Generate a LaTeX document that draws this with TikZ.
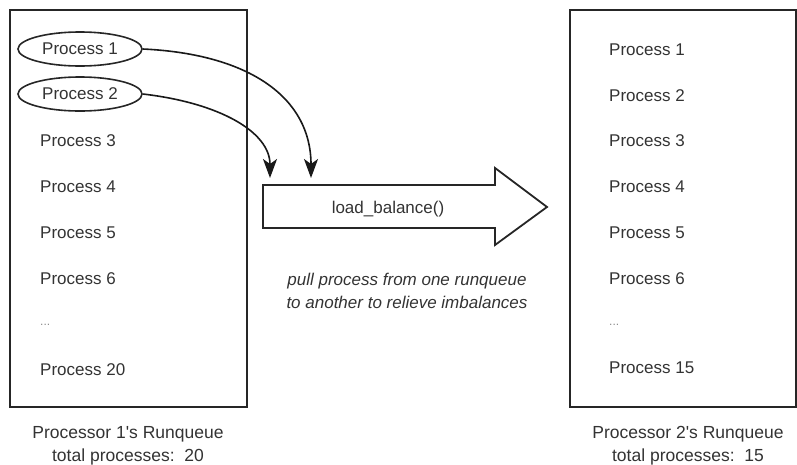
\documentclass[tikz,border=0pt]{standalone}
\usepackage{fontspec}
\setmainfont{Liberation Sans}
\usetikzlibrary{arrows.meta,shapes.geometric}
\begin{document}
\begin{tikzpicture}[x=1pt,y=-1pt,
  box/.style={draw=black!85,line width=1.8pt},
  proc/.style={anchor=west,inner sep=0pt,font=\fontsize{17}{20}\selectfont,text=black!80},
  sel/.style={ellipse,draw=black!85,line width=1.6pt,minimum width=124pt,minimum height=34pt,inner sep=0pt,font=\fontsize{17}{20}\selectfont,text=black!80},
  move/.style={line width=1.6pt,draw=black!90,-{Stealth[length=19pt,width=14pt,inset=5pt]}},
  caption/.style={align=center,font=\fontsize{17.5}{23}\selectfont,text=black!80},
  note/.style={align=center,font=\fontsize{17}{23}\selectfont\itshape,text=black!80},
  dots/.style={anchor=west,inner sep=0pt,font=\fontsize{12}{14}\selectfont,text=black!45}]
\useasboundingbox (0,0) rectangle (797,464);

% runqueue frames
\draw[box] (10,10) rectangle (247,407);
\draw[box] (570,10) rectangle (796,407);

% processor 1 runqueue
\node[sel] (p1) at (80,49) {Process 1};
\node[sel] (p2) at (80,94) {Process 2};
\node[proc] (a3) at (40,141) {Process 3};
\node[proc] (a4) at (40,187) {Process 4};
\node[proc] (a5) at (40,233) {Process 5};
\node[proc] (a6) at (40,279) {Process 6};
\node[dots] (a7) at (40,325) {...};
\node[proc] (a8) at (40,370) {Process 20};

% processor 2 runqueue
\node[proc] (b1) at (609,50) {Process 1};
\node[proc] (b2) at (609,96) {Process 2};
\node[proc] (b3) at (609,141) {Process 3};
\node[proc] (b4) at (609,187) {Process 4};
\node[proc] (b5) at (609,233) {Process 5};
\node[proc] (b6) at (609,279) {Process 6};
\node[dots] (b7) at (609,325) {...};
\node[proc] (b8) at (609,368) {Process 15};

% load balancing arrow
\coordinate (t1) at (311,178);
\coordinate (t2) at (270,178);
\draw[box,line join=miter] (263,185) -- (495,185) -- (495,168) -- (547,207)
  -- (495,245) -- (495,228) -- (263,228) -- cycle;
\node[font=\fontsize{17}{20}\selectfont,text=black!80] (lb) at (388,209) {load\_balance()};

% pulled processes
\draw[move] (p1.east) .. controls (250,54) and (311,98) .. (t1);
\draw[move] (p2.east) .. controls (220,103) and (270,132) .. (t2);

\node[note] (nt) at (407,291) {pull process from one runqueue\\to another to relieve imbalances};

% captions
\node[caption] (c1) at (128,446) {Processor 1\textquotesingle s Runqueue\\total processes:\ \ 20};
\node[caption] (c2) at (688,446) {Processor 2\textquotesingle s Runqueue\\total processes:\ \ 15};
\end{tikzpicture}
\end{document}
